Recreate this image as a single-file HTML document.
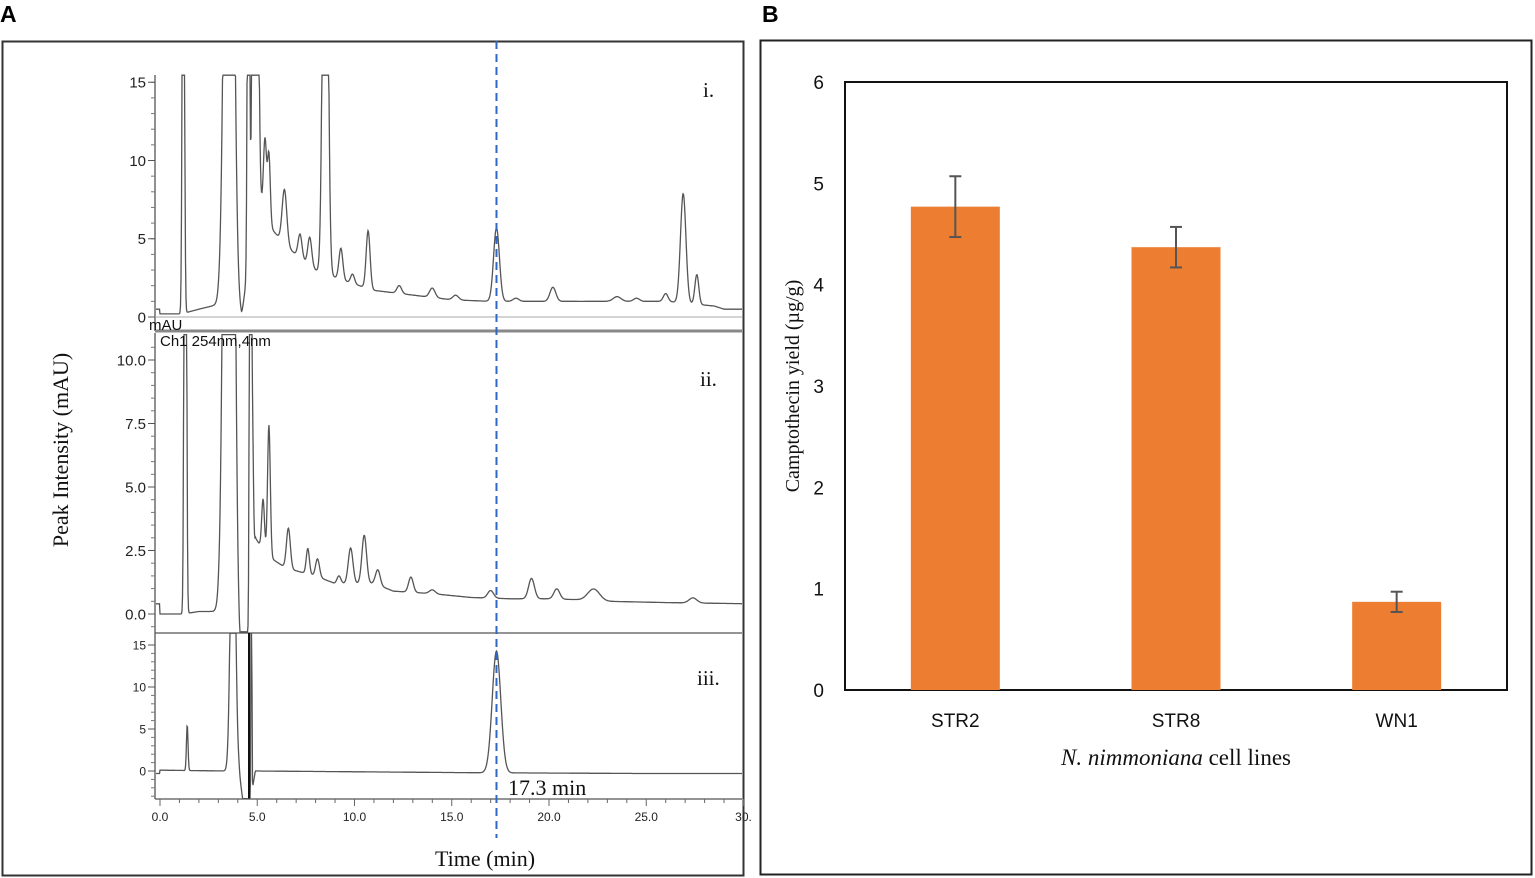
<!DOCTYPE html>
<html><head><meta charset="utf-8"><style>
body{margin:0;background:#fff;width:1535px;height:878px;overflow:hidden}
svg{display:block}
</style></head><body>
<svg id="fig" width="1535" height="878" xmlns="http://www.w3.org/2000/svg">
<text x="0" y="22" font-family="Liberation Sans, sans-serif" font-weight="bold" font-size="23">A</text>
<text x="762" y="22" font-family="Liberation Sans, sans-serif" font-weight="bold" font-size="23">B</text>
<rect x="2.5" y="41.5" width="741" height="834" fill="none" stroke="#333" stroke-width="2"/>
<rect x="760.5" y="40.5" width="771" height="834" fill="none" stroke="#222" stroke-width="2"/>
<g id="chrom"></g>
<g id="bars"></g>
</svg>
<script>
// ---------- Panel A data ----------
const timeTicks = [0,5,10,15,20,25,30];
const timeTickLabels = ["0.0","5.0","10.0","15.0","20.0","25.0","30."];
// peaks: [time(min), height(mAU), sigma(min)]
const peaksI = [[1.2,40,0.05],[3.55,60,0.2],[4.55,40,0.05],[4.8,40,0.06],[5.0,20,0.08],[5.4,5,0.08],[5.6,4.5,0.07],[6.4,3.5,0.12],[7.2,1.5,0.1],[7.7,1.8,0.1],[8.5,40,0.12],[9.3,2.0,0.1],[9.9,0.6,0.1],[10.7,3.7,0.1],[12.3,0.5,0.12],[14.0,0.6,0.14],[15.2,0.3,0.15],[17.3,4.7,0.15],[18.3,0.2,0.15],[20.2,0.9,0.15],[23.5,0.3,0.2],[24.5,0.2,0.15],[26.0,0.5,0.12],[26.9,7.0,0.14],[27.6,1.9,0.1]];
const baseI = [[0,0.2],[1.1,0.2],[2,0.5],[3,0.8],[4.2,0],[5,8],[5.5,6],[6.5,4.5],[8,3],[9.5,2.3],[11,1.7],[13,1.4],[15,1.1],[17,1.0],[20,1.0],[23,1.0],[26,1.0],[28.5,0.7],[29,0.5],[30.5,0.5]];
const peaksII = [[1.3,40,0.05],[3.55,60,0.2],[4.65,40,0.04],[4.75,6,0.05],[5.3,2.0,0.07],[5.6,5.2,0.07],[6.6,1.6,0.1],[7.6,1.0,0.08],[8.1,0.7,0.1],[9.2,0.3,0.1],[9.8,1.4,0.12],[10.5,1.9,0.12],[11.2,0.6,0.12],[12.9,0.6,0.12],[14.0,0.15,0.15],[17.0,0.3,0.15],[19.1,0.8,0.15],[20.4,0.4,0.15],[22.3,0.45,0.3],[27.4,0.2,0.2]];
const baseII = [[0,0],[1.2,0],[2,0.1],[3,0.1],[4.1,-2],[4.4,-2],[4.9,3],[5.5,2.3],[6.5,1.8],[8,1.5],[9,1.2],[11,1.2],[12,0.9],[14,0.8],[16,0.65],[18,0.6],[20,0.6],[22,0.55],[23,0.5],[26,0.45],[30.5,0.4]];
const peaksIII = [[1.4,5.5,0.04],[3.75,40,0.12],[4.7,40,0.02],[17.3,14.5,0.22]];
const baseIII = [[0,0.1],[3.4,0.0],[4.05,0],[4.35,-5],[4.55,-5],[4.9,0],[16,-0.2],[25,-0.3],[30.5,-0.3]];

// ---------- Panel B data ----------
const categories = ["STR2","STR8","WN1"];
const yields = [4.77,4.37,0.87];
const errors = [0.30,0.20,0.10];
const yTicks = [0,1,2,3,4,5,6];

const NS="http://www.w3.org/2000/svg";
function mk(tag,attrs,parent,text){const e=document.createElementNS(NS,tag);for(const k in attrs)e.setAttribute(k,attrs[k]);if(text!==undefined)e.textContent=text;parent.appendChild(e);return e;}

const chrom=document.getElementById('chrom');
const X=t=>160+t*19.45;
function interp(b,t){for(let i=0;i<b.length-1;i++){if(t>=b[i][0]&&t<=b[i+1][0]){const f=(t-b[i][0])/(b[i+1][0]-b[i][0]);return b[i][1]+f*(b[i+1][1]-b[i][1]);}}return b[b.length-1][1];}
function trace(peaks,base,Y,ymin,ymax,name){
  let d="";
  for(let x=156;x<=742;x+=0.5){const t=(x-160)/19.45;let v=interp(base,t);for(const p of peaks)v+=p[1]*Math.exp(-0.5*((t-p[0])/p[2])**2);
    let y=Y(Math.max(ymin,Math.min(ymax,v)));d+=(d?"L":"M")+x.toFixed(1)+","+y.toFixed(1);}
  const p=mk('path',{d:d,fill:'none',stroke:'#555','stroke-width':1.3},chrom);
  
  
}
function yaxis(Y,vals,labels,minor,top,bot,fs,name){
  const g=mk('g',{},chrom);
  
  
  mk('line',{x1:155,y1:top,x2:155,y2:bot,stroke:'#555','stroke-width':1.3},g);
  for(const m of minor){mk('line',{x1:151,y1:Y(m),x2:155,y2:Y(m),stroke:'#777','stroke-width':1},g);}
  vals.forEach((v,i)=>{mk('line',{x1:148,y1:Y(v),x2:155,y2:Y(v),stroke:'#555','stroke-width':1},g);
    mk('text',{x:146,y:Y(v)+fs*0.36,'text-anchor':'end','font-family':'Liberation Sans, sans-serif','font-size':fs,fill:'#222'},g,labels[i]);});
}
// panel i
const Y1=v=>317-v*15.65;
const mi1=[];for(let v=0;v<=15;v+=1)mi1.push(v);
yaxis(Y1,[0,5,10,15],["0","5","10","15"],mi1,75,331,15,'panel-i-y-axis');
mk('line',{x1:155,y1:317,x2:742,y2:317,stroke:'#aaa','stroke-width':1},chrom);
trace(peaksI,baseI,Y1,-1.5,15.45,'trace-i');
// separators
mk('line',{x1:155,y1:331,x2:742,y2:331,stroke:'#888','stroke-width':3},chrom);
// panel ii
const Y2=v=>614-v*25.4;
const mi2=[];for(let v=-0.5;v<=10.5;v+=0.5)mi2.push(v);
yaxis(Y2,[0,2.5,5,7.5,10],["0.0","2.5","5.0","7.5","10.0"],mi2,333,633,15,'panel-ii-y-axis');
trace(peaksII,baseII,Y2,-0.7,11.0,'trace-ii');
mk('line',{x1:155,y1:633,x2:742,y2:633,stroke:'#555','stroke-width':1.3},chrom);
// panel iii
const Y3=v=>771-v*8.4;
const mi3=[];for(let v=-3;v<=15;v+=1)mi3.push(v);
yaxis(Y3,[0,5,10,15],["0","5","10","15"],mi3,633,799,12,'panel-iii-y-axis');
trace(peaksIII,baseIII,Y3,-3.3,16.4,'trace-iii');
mk('line',{x1:249,y1:633,x2:249,y2:799,stroke:'#111','stroke-width':2},chrom);
// x axis
const xa=mk('g',{},chrom);


mk('line',{x1:155,y1:799,x2:742,y2:799,stroke:'#555','stroke-width':1.3},xa);
for(let t=0;t<=30;t+=1){mk('line',{x1:X(t),y1:799,x2:X(t),y2:t%5==0?806:803,stroke:'#666','stroke-width':1},xa);}
timeTicks.forEach((t,i)=>{mk('text',{x:X(t),y:821,'text-anchor':'middle','font-family':'Liberation Sans, sans-serif','font-size':12,fill:'#222'},xa,timeTickLabels[i]);});
mk('line',{x1:X(17.3),y1:41,x2:X(17.3),y2:838,stroke:'#2f67c4','stroke-width':2,'stroke-dasharray':'8,5'},chrom);
const txt=(x,y,s,fs,name,extra)=>{const e=mk('text',Object.assign({x:x,y:y,'font-family':'Liberation Serif, serif','font-size':fs,fill:'#111'},extra||{}),chrom,s);return e;};
txt(703,97,"i.",21,'label-i');
txt(700,386,"ii.",21,'label-ii');
txt(697,685,"iii.",21,'label-iii');
txt(508,795,"17.3 min",22,'retention-label');
txt(485,866,"Time (min)",22,'x-axis-title',{'text-anchor':'middle'});
txt(68,450,"Peak Intensity (mAU)",22,'y-axis-title',{'text-anchor':'middle',transform:'rotate(-90 68 450)'});
txt(149,330,"mAU",15,'unit-label',{'font-family':'Liberation Sans, sans-serif'});
txt(160,346,"Ch1 254nm,4nm",15,'channel-label',{'font-family':'Liberation Sans, sans-serif'});

// ---------- Panel B ----------
const bg=document.getElementById('bars');
const YB=v=>690-v*101.33;
const bx0=845,bw=662,band=bw/categories.length,barW=89;
mk('rect',{x:bx0,y:82,width:bw,height:608,fill:'none',stroke:'#111','stroke-width':2},bg);
yTicks.forEach(v=>{const t=mk('text',{x:824,y:YB(v)+7,'text-anchor':'end','font-family':'Liberation Sans, sans-serif','font-size':19,fill:'#111'},bg,String(v));
  
  });
categories.forEach((c,i)=>{
  const cx=bx0+band*(i+0.5);
  const r=mk('rect',{x:cx-barW/2,y:YB(yields[i]),width:barW,height:YB(0)-YB(yields[i]),fill:'#ED7D31'},bg);
  
  
  const g=mk('g',{stroke:'#555','stroke-width':2},bg);
  
  
  const hi=YB(yields[i]+errors[i]),lo=YB(yields[i]-errors[i]);
  mk('line',{x1:cx,y1:hi,x2:cx,y2:lo},g);
  mk('line',{x1:cx-6,y1:hi,x2:cx+6,y2:hi},g);
  mk('line',{x1:cx-6,y1:lo,x2:cx+6,y2:lo},g);
  const t=mk('text',{x:cx,y:727,'text-anchor':'middle','font-family':'Liberation Sans, sans-serif','font-size':19,fill:'#111'},bg,c);
  
  
});
const yt=mk('text',{x:799,y:386,'text-anchor':'middle','font-family':'Liberation Serif, serif','font-size':20,fill:'#111',transform:'rotate(-90 799 386)'},bg,"Camptothecin yield (µg/g)");


const xt=mk('text',{x:1176,y:765,'text-anchor':'middle','font-family':'Liberation Serif, serif','font-size':23,fill:'#111'},bg);


mk('tspan',{'font-style':'italic'},xt,"N. nimmoniana");
mk('tspan',{},xt," cell lines");
</script>
</body></html>
